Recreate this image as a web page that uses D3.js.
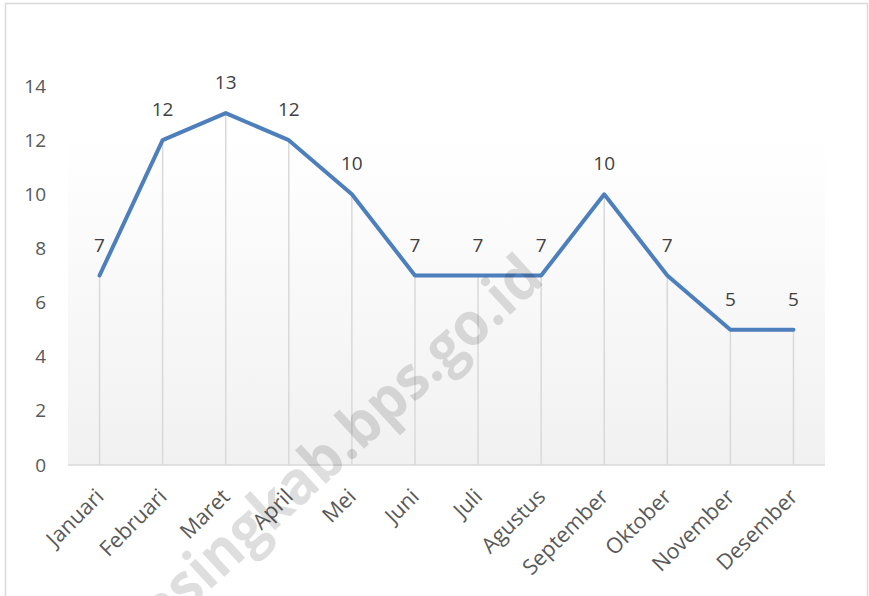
<!DOCTYPE html>
<html>
<head>
<meta charset="utf-8">
<script src="https://cdn.jsdelivr.net/npm/d3@7"></script>
<style>
  body { margin: 0; background: #fff; }
  text { font-family: "Open Sans", sans-serif; }
</style>
</head>
<body>
<svg id="chart" width="869" height="596"></svg>
<script>
// data
var months = ["Januari", "Februari", "Maret", "April", "Mei", "Juni", "Juli",
  "Agustus", "September", "Oktober", "November", "Desember"];
var values = [7, 12, 13, 12, 10, 7, 7, 7, 10, 7, 5, 5];
var yTicks = [0, 2, 4, 6, 8, 10, 12, 14];

var svg = d3.select("#chart"),
    plotLeft = 68, plotRight = 825, plotTop = 86, plotBottom = 465;

// chart border
svg.append("rect")
  .attr("x", 5.5).attr("y", 3.5)
  .attr("width", 862).attr("height", 610)
  .attr("fill", "#fff")
  .attr("stroke", "#d9d9d9").attr("stroke-width", 1.5);

var x = d3.scalePoint().domain(months).range([plotLeft, plotRight]).padding(0.5);
var y = d3.scaleLinear().domain([0, 14]).range([plotBottom, plotTop]);

// plot area fill (faint gradient)
var grad = svg.append("defs").append("linearGradient")
  .attr("id", "bg").attr("x1", 0).attr("y1", 0).attr("x2", 0).attr("y2", 1);
grad.append("stop").attr("offset", "0%").attr("stop-color", "#ffffff");
grad.append("stop").attr("offset", "100%").attr("stop-color", "#f1f1f1");

svg.append("rect")
  .attr("x", plotLeft).attr("y", y(12.1))
  .attr("width", plotRight - plotLeft).attr("height", plotBottom - y(12.1))
  .attr("fill", "url(#bg)");

// drop lines
svg.append("g").selectAll("line")
  .data(values)
  .enter().append("line")
  .attr("x1", function(d, i) { return x(months[i]); })
  .attr("x2", function(d, i) { return x(months[i]); })
  .attr("y1", function(d) { return y(d); })
  .attr("y2", y(0))
  .attr("stroke", "#d9d9d9").attr("stroke-width", 1.5);

// y axis labels
var yAxis = d3.axisLeft(y).tickValues(yTicks).tickSize(0).tickPadding(0);
var gy = svg.append("g").attr("transform", "translate(46,0)").call(yAxis);
gy.select(".domain").remove();
gy.selectAll("text")
  .attr("font-size", 19).attr("fill", "#595959")
  .attr("font-family", "Open Sans, sans-serif");

// x axis
var xAxis = d3.axisBottom(x).tickSize(0).tickPadding(0);
var gx = svg.append("g").attr("transform", "translate(0," + plotBottom + ")").call(xAxis);
gx.select(".domain").attr("d", "M" + plotLeft + ",0H" + plotRight)
  .attr("stroke", "#d9d9d9").attr("stroke-width", 1.5);
gx.selectAll("text")
  .attr("font-size", 21.5).attr("fill", "#595959")
  .attr("font-family", "Open Sans, sans-serif")
  .attr("text-anchor", "end")
  .attr("x", 0).attr("y", 0).attr("dy", null)
  .attr("transform", "translate(5,33) rotate(-45)");

// line
var line = d3.line()
  .x(function(d, i) { return x(months[i]); })
  .y(function(d) { return y(d); });

svg.append("path")
  .datum(values)
  .attr("d", line)
  .attr("fill", "none")
  .attr("stroke", "#4e7fbd")
  .attr("stroke-width", 4)
  .attr("stroke-linejoin", "round")
  .attr("stroke-linecap", "round");

// data labels
svg.append("g").selectAll("text")
  .data(values)
  .enter().append("text")
  .attr("x", function(d, i) { return x(months[i]); })
  .attr("y", function(d) { return y(d) - 24; })
  .attr("text-anchor", "middle")
  .attr("font-size", 19).attr("fill", "#404040")
  .text(function(d) { return d; });

// watermark
svg.append("text")
  .attr("text-anchor", "end")
  .attr("transform", "translate(546,282) rotate(-42.5) scale(0.94,1)")
  .attr("font-size", 60).attr("font-weight", "bold")
  .attr("fill", "#000").attr("fill-opacity", 0.13)
  .text("masingkab.bps.go.id");
</script>
</body>
</html>
